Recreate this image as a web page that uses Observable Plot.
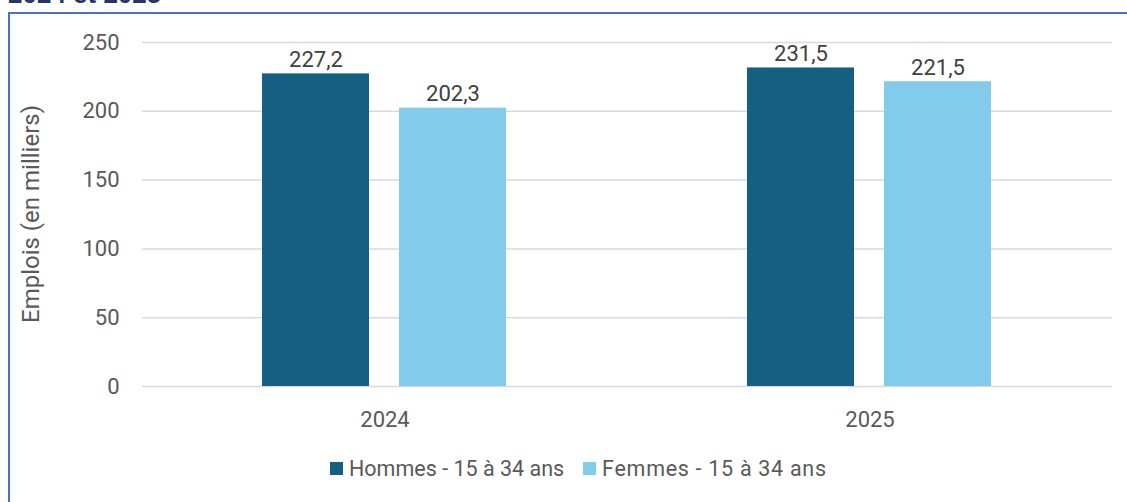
<!DOCTYPE html>
<html>
<head>
<meta charset="utf-8">
<script src="https://cdn.jsdelivr.net/npm/d3@7"></script>
<script src="https://cdn.jsdelivr.net/npm/@observablehq/plot@0.6"></script>
<style>
  html, body { margin: 0; padding: 0; width: 1127px; height: 502px; overflow: hidden; background: #fff; }
  #title { position: absolute; left: 8px; top: -21px; font: bold 26px "Liberation Sans", Arial, sans-serif; color: #1F3864; white-space: nowrap; }
  #frame { position: absolute; left: 8px; top: 12px; width: 1200px; height: 600px; border-left: 2px solid #4472C4; border-top: 2px solid #4472C4; }
  #chart { position: absolute; left: 0; top: 0; }
  #legend { position: absolute; top: 456px; left: 330px; display: flex; gap: 19px; font: 21.5px Roboto, sans-serif; color: #595959; white-space: nowrap; }
  #legend .item { display: flex; align-items: center; }
  #legend .item:nth-child(2) span:last-child { letter-spacing: 0.7px; }
  #legend .sw { width: 13px; height: 13px; margin-right: 6px; }
</style>
</head>
<body>
<div id="title">2024 et 2025</div>
<div id="frame"></div>
<div id="chart"></div>
<div id="legend"></div>
<script>
const years = ["2024", "2025"];
const series = ["Hommes - 15 à 34 ans", "Femmes - 15 à 34 ans"];
const hommes = [227.2, 231.5];
const femmes = [202.3, 221.5];
const colors = ["#156082", "#83CBEB"];
const yTicks = [0, 50, 100, 150, 200, 250];

const data = [];
years.forEach((yr, i) => {
  data.push({year: yr, sexe: series[0], value: hommes[i]});
  data.push({year: yr, sexe: series[1], value: femmes[i]});
});
const fmt = v => v.toFixed(1).replace(".", ",");

const chart = Plot.plot({
  width: 1127,
  height: 440,
  marginLeft: 141,
  marginRight: 15,
  marginTop: 42,
  marginBottom: 54,
  style: {fontFamily: "Roboto, 'Liberation Sans', sans-serif", fontSize: "22px", color: "#595959", background: "transparent"},
  fx: {domain: years, padding: 0, label: null, tickSize: 0, tickPadding: 25},
  x: {domain: series, paddingInner: 0.217, paddingOuter: 0.868, axis: null},
  y: {domain: [0, 250], ticks: yTicks, label: null},
  color: {domain: series, range: colors},
  marks: [
    Plot.gridY(yTicks, {stroke: "#d9d9d9", strokeOpacity: 1, strokeWidth: 1.5}),
    Plot.axisY(yTicks, {tickSize: 0, tickPadding: 23, fontSize: 22, fill: "#595959", label: null}),
    Plot.barY(data, {fx: "year", x: "sexe", y: "value", fill: "sexe"}),
    Plot.text(data, {fx: "year", x: "sexe", y: "value", text: d => fmt(d.value), dy: -14, fontSize: 22, fill: "#404040"})
  ]
});
document.getElementById("chart").appendChild(chart);

// y-axis title
const svg = d3.select(chart);
svg.append("text")
  .attr("transform", "translate(33,214) rotate(-90)")
  .attr("text-anchor", "middle")
  .attr("dominant-baseline", "middle")
  .attr("fill", "#595959")
  .style("font", "24px Roboto, 'Liberation Sans', sans-serif")
  .text("Emplois (en milliers)");

const legend = document.getElementById("legend");
series.forEach((s, i) => {
  const it = document.createElement("div");
  it.className = "item";
  const sw = document.createElement("span");
  sw.className = "sw";
  sw.style.background = colors[i];
  it.appendChild(sw);
  const t = document.createElement("span");
  t.textContent = s;
  it.appendChild(t);
  legend.appendChild(it);
});
</script>
</body>
</html>
